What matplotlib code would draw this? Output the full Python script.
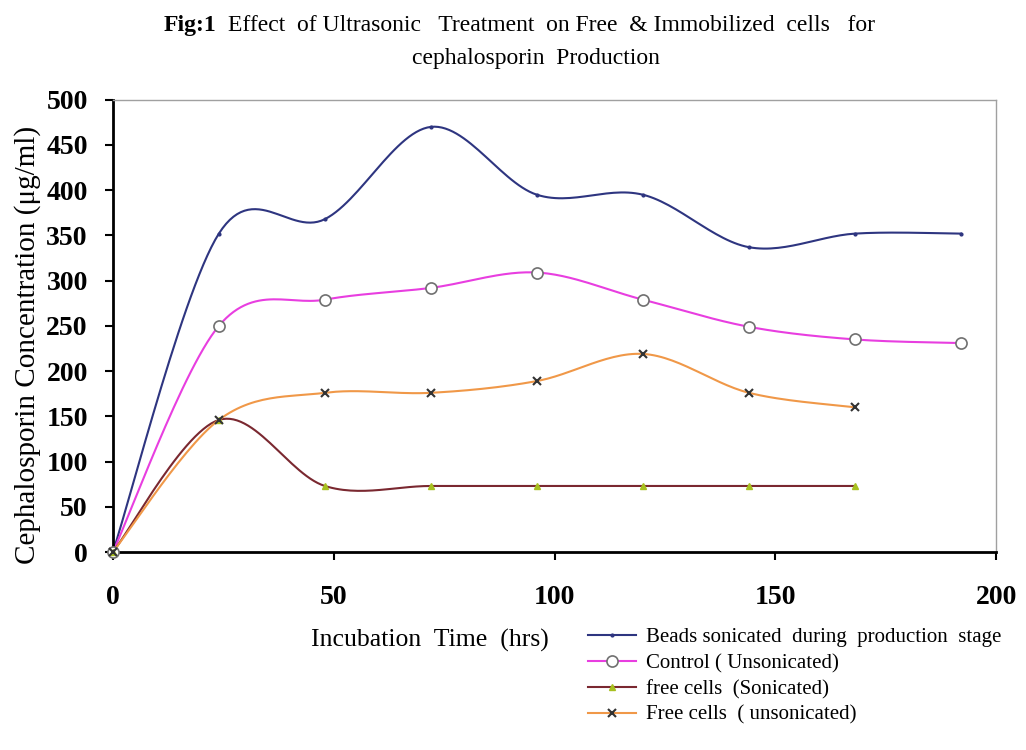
import numpy as np
import matplotlib
matplotlib.use("Agg")
import matplotlib.pyplot as plt

plt.rcParams['font.family'] = ['Liberation Serif', 'DejaVu Serif']

# incubation time (hrs)
hours = [0, 24, 48, 72, 96, 120, 144, 168, 192]
hours_free = [0, 24, 48, 72, 96, 120, 144, 168]

beads = [0, 352, 368, 470, 395, 395, 337, 352, 352]
control = [0, 250, 279, 292, 309, 279, 249, 235, 231]
free_son = [0, 146, 73, 73, 73, 73, 73, 73]
free_unson = [0, 146, 176, 176, 189, 219, 176, 160]

labels = ["Beads sonicated  during  production  stage",
          "Control ( Unsonicated)",
          "free cells  (Sonicated)",
          "Free cells  ( unsonicated)"]


def smooth(x, y, n=30):
    # excel-like smoothed line (bezier through the points)
    x = np.asarray(x, float)
    y = np.asarray(y, float)
    px = np.concatenate([[x[0]], x, [x[-1]]])
    py = np.concatenate([[y[0]], y, [y[-1]]])
    xs, ys = [], []
    t = np.linspace(0, 1, n)
    for i in range(1, len(px) - 2):
        p0, p1, p2, p3 = (np.array([px[k], py[k]]) for k in range(i - 1, i + 3))
        c1 = p1 + (p2 - p0) / 6
        c2 = p2 - (p3 - p1) / 6
        pts = ((1 - t) ** 3)[:, None] * p1 + (3 * (1 - t) ** 2 * t)[:, None] * c1 \
            + (3 * (1 - t) * t ** 2)[:, None] * c2 + (t ** 3)[:, None] * p2
        xs.extend(pts[:, 0])
        ys.extend(pts[:, 1])
    return xs, ys


fig = plt.figure(figsize=(10.26, 7.5), dpi=100)
ax = fig.add_axes([0.110, 0.264, 0.861, 0.603])

series = [
    (hours, beads, "#2e3580", dict(marker='.', ms=4, mfc="#2e3580", mec="#2e3580")),
    (hours, control, "#e83ee0", dict(marker='o', ms=8, mfc="white", mec="#707070", mew=1.2)),
    (hours_free, free_son, "#7a2830", dict(marker='^', ms=5, mfc="#a8c020", mec="#a8c020")),
    (hours_free, free_unson, "#f09848", dict(marker='x', ms=6, mfc="#333333", mec="#333333", mew=1.5)),
]

handles = []
for (x, y, col, mk), lab in zip(series, labels):
    sx, sy = smooth(x, y)
    ax.plot(sx, sy, color=col, lw=1.5, zorder=2)
    ax.plot(x, y, ls='none', zorder=3, **mk)
    h, = ax.plot([], [], color=col, lw=1.5, **mk)
    handles.append(h)

ax.set_xlim(0, 200)
ax.set_ylim(0, 500)
ax.set_xticks([0, 50, 100, 150, 200])
ax.set_yticks(range(0, 501, 50))
ax.tick_params(axis='both', direction='out', length=6, width=1.5, labelsize=20)
ax.tick_params(axis='x', pad=18)
ax.tick_params(axis='y', pad=12)
for lab in ax.get_xticklabels() + ax.get_yticklabels():
    lab.set_fontweight('bold')

for s in ['left', 'bottom']:
    ax.spines[s].set_linewidth(2)
    ax.spines[s].set_color('black')
for s in ['top', 'right']:
    ax.spines[s].set_linewidth(1)
    ax.spines[s].set_color('#a0a0a0')

for ln in ax.lines:
    ln.set_clip_on(False)

fig.text(0.027, 0.54, "Cephalosporin Concentration (μg/ml)", fontsize=21,
         rotation=90, ha='center', va='center')
fig.text(0.419, 0.146, "Incubation  Time  (hrs)", fontsize=18.5, ha='center', va='center')

fig.text(0.159, 0.966, "Fig:1", fontsize=17, fontweight='bold', ha='left', va='center')
fig.text(0.222, 0.966, "Effect  of Ultrasonic   Treatment  on Free  & Immobilized  cells   for",
         fontsize=17, ha='left', va='center')
fig.text(0.522, 0.922, "cephalosporin  Production", fontsize=17, ha='center', va='center')

fig.legend(handles, labels, loc='upper left', bbox_to_anchor=(0.565, 0.174),
           frameon=False, fontsize=15, handlelength=2.3, handletextpad=0.5,
           labelspacing=0.3, borderaxespad=0)

fig.savefig("out.png", dpi=100)
